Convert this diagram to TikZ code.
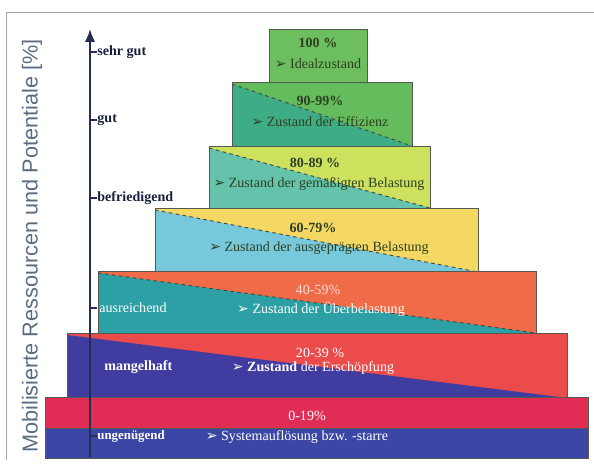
\documentclass[tikz,border=0pt]{standalone}
\usepackage{fontspec}
\setmainfont{Liberation Serif}
\newfontfamily\achsenfont{Liberation Sans}
\newfontfamily\symbolfont{DejaVu Sans}
\usetikzlibrary{arrows.meta}

\newcommand{\pfeil}{{\symbolfont\char"27A2}\ }

\definecolor{rahmenfarbe}{RGB}{85,90,80}
\definecolor{achsenfarbe}{RGB}{35,45,85}
\definecolor{beschriftung}{RGB}{90,108,128}
\definecolor{dunkeltext}{RGB}{45,65,35}
\definecolor{gruenA}{RGB}{109,190,94}
\definecolor{gruenB}{RGB}{100,188,92}
\definecolor{tuerkisB}{RGB}{62,172,132}
\definecolor{gelbgruen}{RGB}{205,225,95}
\definecolor{tuerkisC}{RGB}{100,195,170}
\definecolor{gelb}{RGB}{245,215,100}
\definecolor{hellblau}{RGB}{120,200,220}
\definecolor{orangerot}{RGB}{240,108,72}
\definecolor{petrol}{RGB}{45,160,165}
\definecolor{rot}{RGB}{235,75,75}
\definecolor{violettblau}{RGB}{65,60,160}
\definecolor{karmin}{RGB}{225,45,85}
\definecolor{blau}{RGB}{60,70,165}

\begin{document}
\begin{tikzpicture}[x=0.03cm,y=-0.03cm,
    rahmen/.style={draw=rahmenfarbe,line width=0.8pt},
    trennlinie/.style={draw=rahmenfarbe!80!black,dashed,line width=0.8pt},
    prozent/.style={font=\fontsize{12}{14}\selectfont\bfseries},
    zustand/.style={font=\fontsize{12}{14}\selectfont},
    stufe/.style={font=\fontsize{12}{14}\selectfont\bfseries,text=achsenfarbe!70!black,anchor=west,inner sep=1pt},
    stufehell/.style={font=\fontsize{12}{14}\selectfont,text=white,anchor=west,inner sep=1pt}]
    \useasboundingbox (0,0) rectangle (594,463);

    % Rahmen
    \draw[gray!70,line width=0.8pt] (6,460) -- (6,12) -- (594,12);

    % Stufe 100 %
    \fill[gruenA] (269,29) rectangle (367,82);
    \draw[rahmen] (269,29) rectangle (367,82);
    \node[prozent,text=dunkeltext] (p100) at (318,43) {100 \%};
    \node[zustand,text=dunkeltext] (z100) at (318,64) {\pfeil Idealzustand};

    % Stufe 90-99 %
    \fill[gruenB] (232,82) rectangle (412,146);
    \fill[tuerkisB] (232,84) -- (412,146) -- (232,146) -- cycle;
    \draw[trennlinie] (232,84) -- (412,146);
    \draw[rahmen] (232,82) rectangle (412,146);
    \node[prozent,text=dunkeltext] (p90) at (320,101) {90-99\%};
    \node[zustand,text=dunkeltext] (z90) at (320,122) {\pfeil Zustand der Effizienz};

    % Stufe 80-89 %
    \fill[gelbgruen] (209,146) rectangle (430,208);
    \fill[tuerkisC] (209,148) -- (430,208) -- (209,208) -- cycle;
    \draw[trennlinie] (209,148) -- (430,208);
    \draw[rahmen] (209,146) rectangle (430,208);
    \node[prozent,text=dunkeltext] (p80) at (315,163) {80-89 \%};
    \node[zustand,text=dunkeltext] (z80) at (319,184) {\pfeil Zustand der gemäßigten Belastung};

    % Stufe 60-79 %
    \fill[gelb] (155,208) rectangle (478,272);
    \fill[hellblau] (155,210) -- (478,272) -- (155,272) -- cycle;
    \draw[trennlinie] (155,210) -- (478,272);
    \draw[rahmen] (155,208) rectangle (478,272);
    \node[prozent,text=dunkeltext] (p60) at (313,228) {60-79\%};
    \node[zustand,text=dunkeltext] (z60) at (319,248) {\pfeil Zustand der ausgeprägten Belastung};

    % Stufe 40-59 %
    \fill[orangerot] (98,271) rectangle (536,333);
    \fill[petrol] (98,273) -- (536,333) -- (98,333) -- cycle;
    \draw[trennlinie] (98,273) -- (536,333);
    \draw[rahmen] (98,271) rectangle (536,333);
    \node[prozent,font=\fontsize{12}{14}\selectfont,text=white!85!red] (p40) at (318,290) {40-59\%};
    \node[zustand,text=white] (z40) at (321,309) {\pfeil Zustand der Überbelastung};
    \node[stufehell] (ausreichend) at (98,308) {ausreichend};

    % Stufe 20-39 %
    \fill[rot] (67,333) rectangle (567,398);
    \fill[violettblau] (67,335) -- (567,398) -- (67,398) -- cycle;
    \draw[rahmen] (67,333) rectangle (567,398);
    \node[prozent,font=\fontsize{12}{14}\selectfont,text=white] (p20) at (320,353) {20-39 \%};
    \node[zustand,text=white] (z20) at (313,368) {\pfeil\textbf{Zustand} der Erschöpfung};
    \node[stufehell,font=\fontsize{12}{14}\selectfont\bfseries] (mangelhaft) at (103,367) {mangelhaft};

    % Stufe 0-19 %
    \fill[karmin] (45,397) rectangle (588,428);
    \fill[blau] (45,428) rectangle (588,458);
    \draw[rahmen] (45,397) rectangle (588,458);
    \draw[rahmenfarbe,line width=0.5pt] (45,428) -- (588,428);
    \node[prozent,font=\fontsize{12}{14}\selectfont,text=white] (p0) at (307,416) {0-19\%};
    \node[zustand,text=white] (z0) at (297,437) {\pfeil Systemauflösung bzw. -starre};
    \node[stufehell,font=\fontsize{11}{13}\selectfont\bfseries] (ungenuegend) at (96,436) {ungenügend};

    % Achse
    \coordinate (achseunten) at (90,457);
    \coordinate (achseoben) at (90,29);
    \draw[achsenfarbe,line width=2pt,-{Latex[length=11pt,width=9pt]}] (achseunten) -- (achseoben);
    \foreach \y in {52,120,198,308,436}
      \draw[achsenfarbe,line width=1.5pt] (90,\y) -- (97,\y);
    \node[stufe] (sehrgut) at (96,52) {sehr gut};
    \node[stufe] (gut) at (96,120) {gut};
    \node[stufe] (befriedigend) at (96,198) {befriedigend};

    % Achsenbeschriftung
    \node[rotate=90,font=\achsenfont\fontsize{18.5}{21}\selectfont,text=beschriftung] (achsentitel) at (32,246) {Mobilisierte Ressourcen und Potentiale [\%]};
\end{tikzpicture}
\end{document}
